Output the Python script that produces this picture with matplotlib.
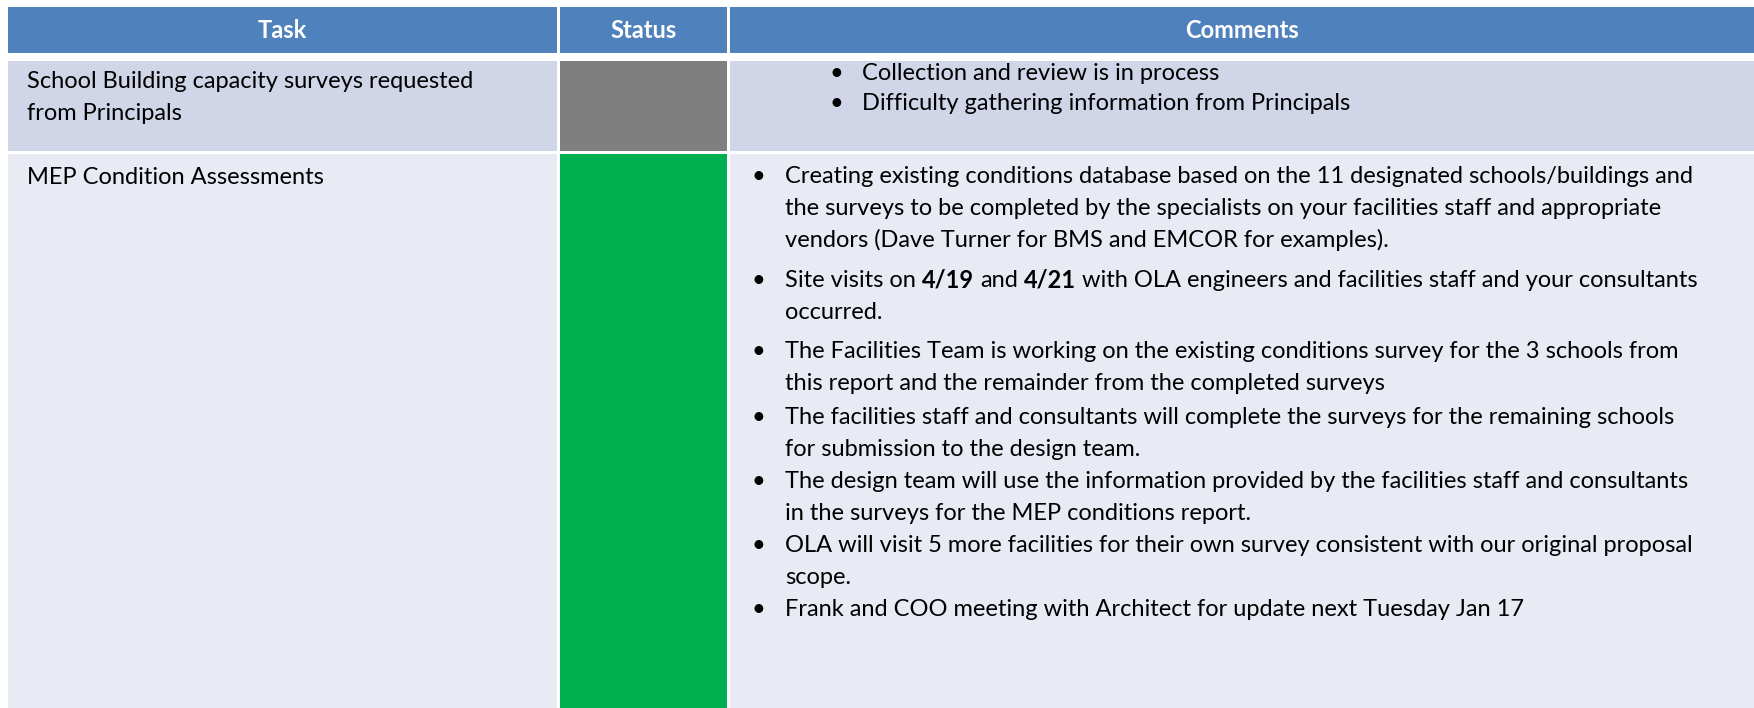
import re
import matplotlib
import matplotlib.pyplot as plt
from matplotlib.patches import Rectangle

matplotlib.use('Agg')

W, H = 1754, 708

columns = ["Task", "Status", "Comments"]
tasks = [
    ["School Building capacity surveys requested", "from Principals"],
    ["MEP Condition Assessments"],
]
statuses = ["grey", "green"]
comments = [
    [
        ["Collection and review is in process"],
        ["Difficulty gathering information from Principals"],
    ],
    [
        ["Creating existing conditions database based on the 11 designated schools/buildings and",
         "the surveys to be completed by the specialists on your facilities staff and appropriate",
         "vendors (Dave Turner for BMS and EMCOR for examples)."],
        ["Site visits on **4/19** and **4/21** with OLA engineers and facilities staff and your consultants",
         "occurred."],
        ["The Facilities Team is working on the existing conditions survey for the 3 schools from",
         "this report and the remainder from the completed surveys"],
        ["The facilities staff and consultants will complete the surveys for the remaining schools",
         "for submission to the design team."],
        ["The design team will use the information provided by the facilities staff and consultants",
         "in the surveys for the MEP conditions report."],
        ["OLA will visit 5 more facilities for their own survey consistent with our original proposal",
         "scope."],
        ["Frank and COO meeting with Architect for update next Tuesday Jan 17"],
    ],
]

status_colors = {"grey": "#7f7f7f", "green": "#00b050"}
header_color = "#4f81bd"
band_colors = ["#d0d5e8", "#e8ebf4"]

# layout in pixels (y grows downwards)
col_x = [(8, 557), (560, 727), (730, W)]
header_y = (7, 53)
row_y = [(61, 151), (154, H)]

FONT = "Lato"
FS = 17

fig = plt.figure(figsize=(W / 100, H / 100), dpi=100)
ax = fig.add_axes([0, 0, 1, 1])
ax.set_xlim(0, W)
ax.set_ylim(H, 0)
ax.axis('off')
renderer = fig.canvas.get_renderer()


def cell(x0, x1, y0, y1, color):
    ax.add_patch(Rectangle((x0, y0), x1 - x0, y1 - y0, facecolor=color, edgecolor='none'))


def text_width(s, bold=False):
    t = ax.text(0, 0, s, fontsize=FS, family=FONT, fontweight='bold' if bold else 'normal')
    w = t.get_window_extent(renderer).width
    t.remove()
    return w


def draw_line(x, y, line):
    # **bold** pieces are drawn as separate runs
    parts = re.split(r'(\*\*[^*]+\*\*)', line)
    sp = text_width("a a") - text_width("aa")
    for part in parts:
        if not part:
            continue
        bold = part.startswith("**")
        s = part.strip("*") if bold else part
        lead = len(s) - len(s.lstrip(" "))
        trail = len(s) - len(s.rstrip(" "))
        core = s.strip(" ")
        x += lead * sp
        if core:
            ax.text(x, y, core, fontsize=FS, family=FONT, color='black',
                    fontweight='bold' if bold else 'normal', va='baseline', ha='left')
            x += text_width(core, bold)
        x += trail * sp


# header
for (x0, x1), name in zip(col_x, columns):
    cell(x0, x1, header_y[0], header_y[1], header_color)
    ax.text((x0 + x1) / 2, (header_y[0] + header_y[1]) / 2 + 1, name, fontsize=FS, family=FONT,
            fontweight='bold', color='white', ha='center', va='center')

# body rows
task_first = [88, 184]
task_step = 32
comment_first = [80, 183]
comment_step = [30, 32]
item_extra = [[0, 0], [8, 7, 2, 0, 0, 0, 0]]
bullet_x = [829, 752]
text_x = [862, 785]

for i, (y0, y1) in enumerate(row_y):
    band = band_colors[i]
    cell(col_x[0][0], col_x[0][1], y0, y1, band)
    cell(col_x[1][0], col_x[1][1], y0, y1, status_colors[statuses[i]])
    cell(col_x[2][0], col_x[2][1], y0, y1, band)

    for k, line in enumerate(tasks[i]):
        draw_line(27, task_first[i] + k * task_step, line)

    y = comment_first[i]
    for j, item in enumerate(comments[i]):
        ax.text(bullet_x[i], y, "\u2022", fontsize=FS, family=FONT, ha='left', va='baseline')
        for line in item:
            draw_line(text_x[i], y, line)
            y += comment_step[i]
        y += item_extra[i][j]

fig.savefig("out.png", dpi=100)
